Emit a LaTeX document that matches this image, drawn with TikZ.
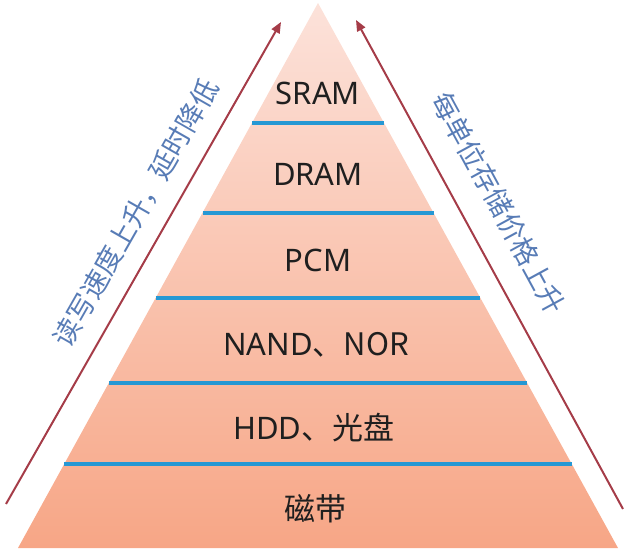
\documentclass[tikz,border=0pt]{standalone}
\usepackage{fontspec}
\setmainfont{Noto Sans}
\newfontfamily\cjk{Noto Sans CJK SC}
\usetikzlibrary{arrows.meta,calc}
\definecolor{toppink}{RGB}{252,226,218}
\definecolor{botsalmon}{RGB}{247,166,134}
\definecolor{sepblue}{RGB}{38,152,212}
\definecolor{arrowred}{RGB}{165,60,72}
\definecolor{sidetext}{RGB}{88,124,182}
\begin{document}
\begin{tikzpicture}[x=1pt,y=1pt,
  level/.style={font=\fontsize{31}{36}\selectfont, text=black!88},
  sep/.style={draw=sepblue,line width=4pt},
  trend/.style={draw=arrowred,line width=2pt,-{Triangle[length=11pt,width=9pt]}},
  sidelabel/.style={font=\cjk\fontsize{27.5}{30}\selectfont,text=sidetext,inner sep=0pt}]
\useasboundingbox (0,0) rectangle (630,558);
\coordinate (A) at (318,555);
\coordinate (BL) at (18,10);
\coordinate (BR) at (618,10);
\shade[top color=toppink,bottom color=botsalmon] (A) -- (BL) -- (BR) -- cycle;
\foreach \f/\n in {0.780/1,0.615/2,0.459/3,0.303/4,0.154/5}{
  \coordinate (l\n) at ($(BL)!\f!(A)$);
  \coordinate (r\n) at ($(BR)!\f!(A)$);
  \draw[sep] (l\n) -- (r\n);
}
\node[level] (sram) at (318,465) {SRAM};
\node[level] (dram) at (318,384) {DRAM};
\node[level] (pcm)  at (318,298) {PCM};
\node[level] (nand) at (316,213) {NAND\cjk{、}NOR};
\node[level] (hdd)  at (314,130) {HDD\cjk{、光盘}};
\node[level] (tape) at (315,49)  {\cjk 磁带};
\coordinate (lt) at (6,54);
\coordinate (lh) at (281,536);
\draw[trend] (lt) -- (lh);
\coordinate (rt) at (623,49);
\coordinate (rh) at (356,538);
\draw[trend] (rt) -- (rh);
\node[sidelabel,rotate=60.3] (speed) at (136,345) {读写速度上升，延时降低};
\node[sidelabel,rotate=-61.4] (price) at (499,355) {每单位存储价格上升};
\end{tikzpicture}
\end{document}
